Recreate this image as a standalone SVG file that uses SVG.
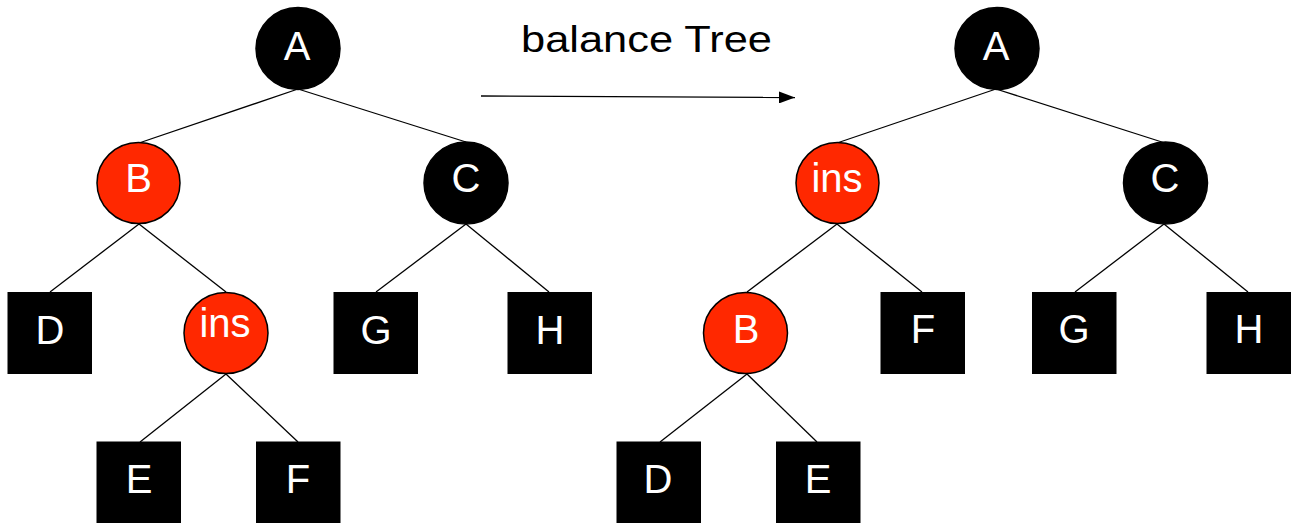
<svg xmlns="http://www.w3.org/2000/svg" width="1298" height="523" viewBox="0 0 1298 523">
<style>
.blk{fill:#000;stroke:#000;stroke-width:1.5}
.red{fill:#FF2800;stroke:#000;stroke-width:1.5}
.sq{fill:#000}
.lbl{fill:#fff;font-family:"Liberation Sans",Arial,sans-serif;font-size:40px;text-anchor:middle}
.edge{stroke:#000;stroke-width:1.3;fill:none}
.title{fill:#000;font-family:"Liberation Sans",Arial,sans-serif;font-size:37px}
</style>
<defs>
<marker id="ah" markerWidth="16" markerHeight="12" refX="16" refY="6" orient="auto" markerUnits="userSpaceOnUse">
<path d="M0,0 L16,6 L0,12 Z" fill="#000"/>
</marker>
</defs>
<rect width="1298" height="523" fill="#fff"/>
<g id="connectors">
<line class="edge" x1="298" y1="89" x2="139" y2="143"/>
<line class="edge" x1="298" y1="89" x2="466" y2="142"/>
<line class="edge" x1="139" y1="224" x2="50" y2="292"/>
<line class="edge" x1="139" y1="224" x2="226" y2="292"/>
<line class="edge" x1="466" y1="224" x2="376" y2="292"/>
<line class="edge" x1="466" y1="224" x2="549" y2="292"/>
<line class="edge" x1="226" y1="374" x2="140" y2="442"/>
<line class="edge" x1="226" y1="374" x2="298" y2="442"/>
<line class="edge" x1="996" y1="89" x2="837" y2="143"/>
<line class="edge" x1="996" y1="89" x2="1165" y2="143"/>
<line class="edge" x1="837" y1="224" x2="747" y2="292"/>
<line class="edge" x1="837" y1="224" x2="922" y2="292"/>
<line class="edge" x1="1164" y1="224" x2="1075" y2="292"/>
<line class="edge" x1="1164" y1="224" x2="1248" y2="292"/>
<line class="edge" x1="747" y1="374" x2="660" y2="442"/>
<line class="edge" x1="747" y1="374" x2="817" y2="442"/>
<line class="edge" x1="481" y1="96" x2="795" y2="97.5" marker-end="url(#ah)"/>
</g>
<text class="title" x="521" y="52" textLength="251" lengthAdjust="spacingAndGlyphs">balance Tree</text>
<g id="L_A"><ellipse class="blk" cx="298" cy="48.5" rx="42" ry="41"/><text class="lbl" x="297" y="60">A</text></g>
<g id="L_B"><ellipse class="red" cx="138.5" cy="183" rx="41.5" ry="40.5"/><text class="lbl" x="138.5" y="192">B</text></g>
<g id="L_C"><ellipse class="blk" cx="466" cy="183" rx="42" ry="41"/><text class="lbl" x="466" y="192">C</text></g>
<g id="L_D"><rect class="sq" x="7.5" y="292" width="84.5" height="82"/><text class="lbl" x="50" y="344">D</text></g>
<g id="L_ins"><ellipse class="red" cx="226" cy="333" rx="42" ry="40.5"/><text class="lbl" x="225" y="337">ins</text></g>
<g id="L_G"><rect class="sq" x="333.5" y="292" width="84.5" height="82"/><text class="lbl" x="376" y="344">G</text></g>
<g id="L_H"><rect class="sq" x="507.5" y="292" width="84.5" height="82"/><text class="lbl" x="550" y="344">H</text></g>
<g id="L_E"><rect class="sq" x="96.5" y="441.5" width="84.5" height="82"/><text class="lbl" x="139" y="493">E</text></g>
<g id="L_F"><rect class="sq" x="256" y="441.5" width="84.5" height="82"/><text class="lbl" x="298" y="493">F</text></g>
<g id="R_A"><ellipse class="blk" cx="997" cy="48.5" rx="42" ry="41"/><text class="lbl" x="996" y="60">A</text></g>
<g id="R_ins"><ellipse class="red" cx="837.5" cy="183" rx="41.5" ry="40.5"/><text class="lbl" x="837" y="192">ins</text></g>
<g id="R_C"><ellipse class="blk" cx="1165.5" cy="183" rx="42" ry="41"/><text class="lbl" x="1165" y="192">C</text></g>
<g id="R_B"><ellipse class="red" cx="745.5" cy="333" rx="42" ry="40.5"/><text class="lbl" x="746" y="343">B</text></g>
<g id="R_F"><rect class="sq" x="880.5" y="292" width="84.5" height="82"/><text class="lbl" x="923" y="343">F</text></g>
<g id="R_G"><rect class="sq" x="1032" y="292" width="84.5" height="82"/><text class="lbl" x="1074" y="343">G</text></g>
<g id="R_H"><rect class="sq" x="1206.5" y="292" width="84.5" height="82"/><text class="lbl" x="1249" y="343">H</text></g>
<g id="R_D"><rect class="sq" x="616.5" y="441.5" width="84.5" height="82"/><text class="lbl" x="658" y="493">D</text></g>
<g id="R_E"><rect class="sq" x="776" y="441.5" width="84.5" height="82"/><text class="lbl" x="818" y="493">E</text></g>
</svg>
